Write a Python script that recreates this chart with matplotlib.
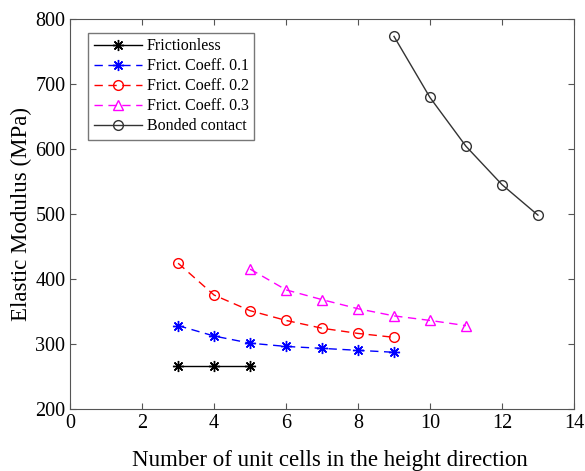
import numpy as np
import matplotlib
matplotlib.use('Agg')
import matplotlib.pyplot as plt

plt.rcParams['font.family'] = ['Liberation Serif', 'DejaVu Serif']

# number of unit cells in the height direction
x_fl = [3, 4, 5]
x_f01 = [3, 4, 5, 6, 7, 8, 9]
x_f02 = [3, 4, 5, 6, 7, 8, 9]
x_f03 = [5, 6, 7, 8, 9, 10, 11]
x_bond = [9, 10, 11, 12, 13]

# elastic modulus (MPa)
e_fl = [266, 266, 266]
e_f01 = [328, 312, 301, 296, 293, 290, 287]
e_f02 = [424, 375, 351, 336, 324, 316, 310]
e_f03 = [415, 383, 368, 354, 343, 336, 328]
e_bond = [773, 679, 604, 545, 498]

ast = (8, 2, 0)  # matlab-like asterisk

fig = plt.figure(figsize=(5.85, 4.71), dpi=100)
ax = fig.add_axes([0.12, 0.132, 0.861, 0.828])

ax.plot(x_fl, e_fl, '-', color='k', marker=ast, ms=8, mew=1, lw=1, label='Frictionless')
ax.plot(x_f01, e_f01, '--', color='blue', marker=ast, ms=8, mew=1, lw=1, dashes=(6, 4), label='Frict. Coeff. 0.1')
ax.plot(x_f02, e_f02, '--', color='red', marker='o', ms=7, mfc='none', lw=1, dashes=(6, 4), label='Frict. Coeff. 0.2')
ax.plot(x_f03, e_f03, '--', color='magenta', marker='^', ms=7, mfc='none', lw=1, dashes=(6, 4), label='Frict. Coeff. 0.3')
ax.plot(x_bond, e_bond, '-', color='#333333', marker='o', ms=7, mfc='none', lw=1, label='Bonded contact')

ax.set_xlim(0, 14)
ax.set_ylim(200, 800)
ax.set_xticks(np.arange(0, 15, 2))
ax.set_yticks(np.arange(200, 801, 100))
ax.tick_params(direction='in', top=True, right=True, labelsize=14.5, length=4, color='#555555')
for s in ax.spines.values():
    s.set_color('#555555')

ax.set_xlabel('Number of unit cells in the height direction', fontsize=16.5)
ax.xaxis.set_label_coords(0.515, -0.105)
ax.set_ylabel('Elastic Modulus (MPa)', fontsize=16.5, labelpad=2)

leg = ax.legend(loc='upper left', fontsize=11.5, fancybox=False, edgecolor='#555555',
                handlelength=3.0, handletextpad=0.3, labelspacing=0.25, borderpad=0.35,
                bbox_to_anchor=(0.02, 0.985))
leg.get_frame().set_linewidth(1)

fig.savefig('out.png', dpi=100)
